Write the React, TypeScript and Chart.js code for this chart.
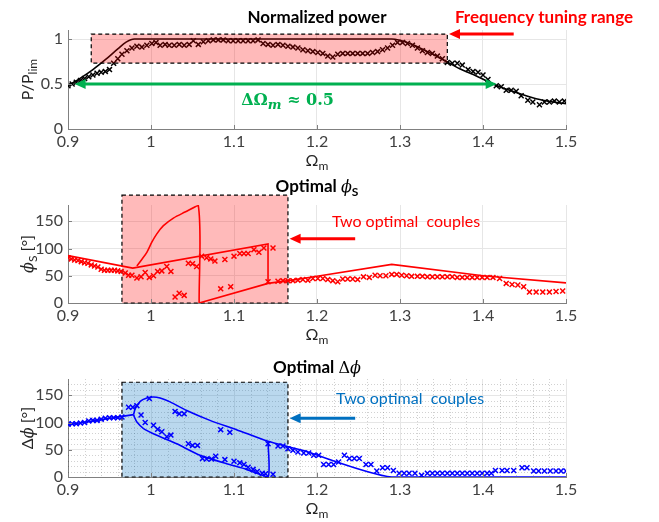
import React, { useEffect, useRef } from 'react';
import { Chart, registerables } from 'chart.js';
Chart.register(...registerables);

const FONT = 'Lato, "Open Sans", "DejaVu Sans", sans-serif';
const SERIF = '"DejaVu Serif", "Liberation Serif", serif';

// ---------- data ----------
const xTicks = [0.9, 1.0, 1.1, 1.2, 1.3, 1.4, 1.5];
const powerTicks = [0, 0.5, 1];
const angleTicks = [0, 50, 100, 150];

const powerModel: [number, number][] = [
  [0.9, 0.48], [0.915, 0.565], [0.93, 0.66], [0.945, 0.77], [0.96, 0.89], [0.97, 0.965], [0.98, 1.0],
  [1.1, 1.0], [1.2, 1.0], [1.29, 1.0], [1.3, 0.985], [1.312, 0.95], [1.332, 0.865], [1.352, 0.77],
  [1.372, 0.67], [1.392, 0.59], [1.412, 0.5], [1.432, 0.43], [1.452, 0.37], [1.472, 0.32], [1.5, 0.28],
];

const powerMeasured: [number, number][] = [
  [0.900, 0.48], [0.905, 0.50], [0.910, 0.52], [0.915, 0.54], [0.920, 0.56], [0.925, 0.58], [0.930, 0.60],
  [0.935, 0.62], [0.940, 0.63], [0.945, 0.64], [0.950, 0.66], [0.955, 0.73], [0.960, 0.78], [0.965, 0.83],
  [0.971, 0.87], [0.977, 0.90], [0.983, 0.92], [0.989, 0.91], [0.995, 0.93], [1.001, 0.95], [1.006, 0.96],
  [1.011, 0.93], [1.017, 0.94], [1.022, 0.93], [1.028, 0.93], [1.034, 0.94], [1.040, 0.93], [1.046, 0.94],
  [1.051, 0.98], [1.057, 0.94], [1.063, 0.97], [1.069, 0.98], [1.075, 0.99], [1.081, 0.99], [1.087, 0.99],
  [1.093, 0.98], [1.099, 0.98], [1.105, 0.98], [1.111, 0.98], [1.117, 0.98], [1.123, 0.98], [1.129, 0.99],
  [1.135, 0.95], [1.141, 0.94], [1.147, 0.93], [1.153, 0.94], [1.159, 0.93], [1.165, 0.92], [1.171, 0.91],
  [1.177, 0.90], [1.183, 0.88], [1.189, 0.87], [1.195, 0.86], [1.201, 0.85], [1.207, 0.84], [1.213, 0.81],
  [1.219, 0.80], [1.225, 0.83], [1.231, 0.84], [1.237, 0.84], [1.243, 0.84], [1.249, 0.84], [1.255, 0.84],
  [1.261, 0.84], [1.267, 0.85], [1.273, 0.86], [1.279, 0.88], [1.285, 0.90], [1.291, 0.93], [1.297, 0.96],
  [1.303, 0.96], [1.309, 0.95], [1.315, 0.93], [1.321, 0.90], [1.327, 0.87], [1.333, 0.85], [1.339, 0.84],
  [1.345, 0.81], [1.351, 0.78], [1.357, 0.74], [1.363, 0.73], [1.369, 0.73], [1.375, 0.71], [1.382, 0.66],
  [1.388, 0.64], [1.394, 0.63], [1.400, 0.60], [1.406, 0.55], [1.416, 0.48], [1.422, 0.47], [1.428, 0.43],
  [1.434, 0.43], [1.440, 0.42], [1.446, 0.37], [1.454, 0.32], [1.460, 0.30], [1.468, 0.27], [1.474, 0.30],
  [1.480, 0.30], [1.486, 0.31], [1.492, 0.30], [1.498, 0.31],
];

const phiUpper: [number, number][] = [[0.9, 87], [0.978, 64], [1.141, 108.6], [1.141, 36]];
const phiLower: [number, number][] = [[1.058, 0], [1.141, 36], [1.17, 42], [1.2, 49], [1.29, 71], [1.4, 50], [1.5, 37]];
const phiArc: [number, number][] = [
  [0.983, 68], [0.988, 78], [0.995, 93], [1.001, 111.6], [1.007, 127], [1.015, 142], [1.027, 156],
  [1.041, 167], [1.057, 179], [1.058, 0],
];
const phiMeasured: [number, number][] = [
  [0.900, 83], [0.904, 81], [0.908, 79], [0.912, 78], [0.916, 76], [0.920, 74], [0.924, 73], [0.928, 70],
  [0.932, 68], [0.936, 66], [0.940, 62], [0.944, 60], [0.948, 60], [0.952, 60], [0.956, 60], [0.960, 59],
  [0.964, 58], [0.969, 55], [0.973, 51], [0.977, 51], [0.983, 46], [0.988, 48], [0.993, 56], [0.998, 47],
  [1.003, 50], [1.008, 58], [1.013, 59], [1.019, 67], [1.024, 58], [1.029, 11], [1.034, 18], [1.040, 14],
  [1.045, 73], [1.050, 72], [1.055, 67], [1.061, 86], [1.067, 83], [1.072, 81], [1.077, 77], [1.084, 26],
  [1.089, 80], [1.096, 30], [1.100, 86], [1.107, 91], [1.112, 91], [1.117, 91], [1.124, 98], [1.130, 93],
  [1.136, 101], [1.141, 39], [1.147, 101], [1.153, 40], [1.159, 41], [1.165, 41], [1.171, 41], [1.177, 42],
  [1.183, 43], [1.189, 42], [1.195, 45], [1.201, 45], [1.207, 45], [1.213, 43], [1.219, 41], [1.225, 39],
  [1.231, 44], [1.237, 44], [1.243, 44], [1.249, 43], [1.256, 48], [1.263, 47], [1.270, 51], [1.276, 50],
  [1.283, 50], [1.290, 52.5], [1.296, 52.5], [1.302, 51], [1.308, 50], [1.314, 49], [1.321, 49], [1.327, 49],
  [1.333, 48], [1.339, 48], [1.345, 48], [1.351, 48], [1.357, 48], [1.363, 48], [1.369, 47], [1.375, 47],
  [1.381, 47], [1.387, 47], [1.393, 47], [1.399, 47], [1.405, 47], [1.412, 47], [1.420, 45], [1.428, 36],
  [1.435, 34], [1.442, 33], [1.449, 30], [1.456, 20], [1.464, 20], [1.472, 20], [1.480, 20], [1.488, 21],
  [1.496, 22],
];

const dphiStart: [number, number][] = [[0.9, 96], [0.979, 114.5]];
const dphiUpper: [number, number][] = [
  [0.979, 114.5], [0.981, 125.5], [0.987, 139], [0.995, 145], [1.003, 147], [1.011, 145], [1.023, 138],
  [1.043, 122], [1.071, 104], [1.103, 87], [1.141, 65.5], [1.18, 50], [1.29, 0], [1.5, 0],
];
const dphiLower: [number, number][] = [
  [0.979, 114.5], [0.98, 110], [0.983, 101], [0.991, 89], [1.007, 76.5], [1.031, 61], [1.059, 40],
  [1.091, 24.5], [1.115, 14], [1.141, 0], [1.141, 65.5],
];
const dphiMeasured: [number, number][] = [
  [0.900, 97], [0.905, 98], [0.910, 98], [0.915, 99], [0.920, 100], [0.925, 103], [0.930, 104], [0.935, 104],
  [0.940, 106], [0.945, 108], [0.950, 109], [0.955, 109], [0.960, 109], [0.965, 110], [0.973, 128], [0.978, 128],
  [0.983, 131], [0.988, 114], [0.993, 100], [0.998, 144], [1.003, 95], [1.008, 87.5], [1.013, 83], [1.019, 74],
  [1.024, 77], [1.029, 120.5], [1.034, 116], [1.040, 116], [1.045, 61], [1.050, 58], [1.056, 58], [1.062, 34],
  [1.067, 33], [1.073, 33], [1.078, 38], [1.084, 87], [1.089, 32], [1.095, 82], [1.100, 29], [1.107, 26],
  [1.112, 23], [1.117, 18], [1.123, 14], [1.128, 10], [1.134, 7], [1.138, 6], [1.141, 61], [1.147, 5],
  [1.153, 57], [1.159, 57], [1.165, 52], [1.171, 49], [1.177, 46], [1.184, 44], [1.190, 44], [1.196, 40],
  [1.202, 40], [1.208, 23], [1.214, 23], [1.220, 23], [1.226, 27.5], [1.233, 40], [1.239, 34], [1.245, 34],
  [1.251, 34], [1.259, 23], [1.265, 23], [1.272, 11], [1.279, 17], [1.285, 17], [1.292, 12], [1.299, 7],
  [1.305, 7], [1.311, 7], [1.318, 7], [1.326, 3], [1.333, 7], [1.339, 7], [1.345, 7], [1.351, 7], [1.357, 7],
  [1.363, 7], [1.369, 7], [1.375, 7], [1.381, 7], [1.387, 7], [1.393, 7], [1.399, 7], [1.405, 7], [1.410, 7],
  [1.415, 12], [1.423, 12], [1.429, 12], [1.437, 12], [1.447, 17], [1.453, 17], [1.461, 11], [1.467, 11],
  [1.474, 11], [1.481, 11], [1.488, 11], [1.494, 11], [1.500, 11],
];

// tuning ranges / annotation anchors (data units)
const powerRange = { x0: 0.928, x1: 1.357, y0: 0.733, y1: 1.055 };
const phiRange = { x0: 0.965, x1: 1.165, y0: 0, y1: 198 };
const dphiRange = { x0: 0.965, x1: 1.165, y0: 0, y1: 174 };

// ---------- helpers ----------
type Seg = { t: string; f: string; dy?: number };
const pts = (a: [number, number][]) => a.map(([x, y]) => ({ x, y }));

function drawRich(ctx: CanvasRenderingContext2D, segs: Seg[], x: number, y: number, align: 'center' | 'left', color: string, rotate = false) {
  ctx.save();
  ctx.fillStyle = color;
  ctx.textBaseline = 'alphabetic';
  ctx.textAlign = 'left';
  let w = 0;
  for (const s of segs) { ctx.font = s.f; w += ctx.measureText(s.t).width; }
  ctx.translate(x, y);
  if (rotate) ctx.rotate(-Math.PI / 2);
  let cx = align === 'center' ? -w / 2 : 0;
  for (const s of segs) {
    ctx.font = s.f;
    ctx.fillText(s.t, cx, s.dy || 0);
    cx += ctx.measureText(s.t).width;
  }
  ctx.restore();
}

function arrow(ctx: CanvasRenderingContext2D, x1: number, y1: number, x2: number, y2: number, color: string, lw: number, hl: number, hw: number, both = false) {
  ctx.save();
  ctx.strokeStyle = color; ctx.fillStyle = color; ctx.lineWidth = lw; ctx.setLineDash([]);
  const a = Math.atan2(y2 - y1, x2 - x1);
  const c = Math.cos(a), s = Math.sin(a);
  const head = (x: number, y: number, dirc: number, dirs: number) => {
    ctx.beginPath();
    ctx.moveTo(x, y);
    ctx.lineTo(x - hl * dirc + hw * dirs, y - hl * dirs - hw * dirc);
    ctx.lineTo(x - hl * dirc - hw * dirs, y - hl * dirs + hw * dirc);
    ctx.closePath();
    ctx.fill();
  };
  const sx = both ? x1 + hl * 0.8 * c : x1, sy = both ? y1 + hl * 0.8 * s : y1;
  ctx.beginPath();
  ctx.moveTo(sx, sy);
  ctx.lineTo(x2 - hl * 0.8 * c, y2 - hl * 0.8 * s);
  ctx.stroke();
  head(x2, y2, c, s);
  if (both) head(x1, y1, -c, -s);
  ctx.restore();
}

function rangeRect(ch: any, r: { x0: number; x1: number; y0: number; y1: number }, fill: string) {
  const ctx = ch.ctx as CanvasRenderingContext2D;
  const X = ch.scales.x, Y = ch.scales.y;
  const l = X.getPixelForValue(r.x0), rr = X.getPixelForValue(r.x1);
  const t = Y.getPixelForValue(r.y1), b = Y.getPixelForValue(r.y0);
  ctx.save();
  ctx.fillStyle = fill;
  ctx.fillRect(l, t, rr - l, b - t);
  ctx.setLineDash([4, 3]);
  ctx.strokeStyle = '#000';
  ctx.lineWidth = 1.2;
  ctx.strokeRect(l, t, rr - l, b - t);
  ctx.restore();
}

function innerTicks(ch: any, yTicks: number[]) {
  const ctx = ch.ctx as CanvasRenderingContext2D;
  const a = ch.chartArea;
  ctx.save();
  ctx.strokeStyle = '#808080'; ctx.lineWidth = 1;
  ctx.beginPath();
  for (const v of xTicks) {
    const x = Math.round(ch.scales.x.getPixelForValue(v)) + 0.5;
    ctx.moveTo(x, a.bottom); ctx.lineTo(x, a.bottom - 4);
  }
  for (const v of yTicks) {
    const y = Math.round(ch.scales.y.getPixelForValue(v)) + 0.5;
    ctx.moveTo(a.left, y); ctx.lineTo(a.left + 4, y);
  }
  ctx.stroke();
  ctx.restore();
}

function minorGrid(ch: any) {
  const ctx = ch.ctx as CanvasRenderingContext2D;
  const a = ch.chartArea;
  ctx.save();
  ctx.strokeStyle = 'rgba(0,0,0,0.18)'; ctx.lineWidth = 1; ctx.setLineDash([1, 2]);
  ctx.beginPath();
  for (let i = 1; i < 30; i++) {
    if (i % 5 === 0) continue;
    const x = Math.round(ch.scales.x.getPixelForValue(0.9 + i * 0.02)) + 0.5;
    ctx.moveTo(x, a.top); ctx.lineTo(x, a.bottom);
  }
  for (let v = 10; v < 180; v += 10) {
    if (v % 50 === 0) continue;
    const y = Math.round(ch.scales.y.getPixelForValue(v)) + 0.5;
    ctx.moveTo(a.left, y); ctx.lineTo(a.right, y);
  }
  ctx.stroke();
  ctx.restore();
}

const TXT = '#262626';
const TICK = '#404040';
const PHI = 'ϕ';
const omegaLabel = (ch: any) => {
  const a = ch.chartArea;
  drawRich(ch.ctx, [{ t: 'Ω', f: `16px ${FONT}` }, { t: 'm', f: `12px ${FONT}`, dy: 4 }], (a.left + a.right) / 2, a.bottom + 37, 'center', TXT);
};

const lineDs = (a: [number, number][], color: string, extra: any = {}) => ({
  data: pts(a), showLine: true, borderColor: color, backgroundColor: color, borderWidth: 1.6,
  pointRadius: 0, fill: false, tension: 0, ...extra,
});
const markDs = (a: [number, number][], color: string) => ({
  data: pts(a), showLine: false, pointStyle: 'crossRot', pointRadius: 3.5, pointBorderWidth: 1.5,
  borderColor: color, backgroundColor: color,
});

function makeChart(canvas: HTMLCanvasElement, cfg: { yMax: number; yTicks: number[]; top: number; below: number; datasets: any[]; plugin: any; }) {
  const fmt = (v: any) => String(Math.round(Number(v) * 100) / 100);
  return new Chart(canvas, {
    type: 'scatter',
    data: { datasets: cfg.datasets },
    options: {
      animation: false, responsive: false, devicePixelRatio: 1, events: [],
      layout: { padding: { top: cfg.top, left: 0, right: 93, bottom: 0 } },
      plugins: { legend: { display: false }, tooltip: { enabled: false }, title: { display: false } },
      scales: {
        x: {
          type: 'linear', min: 0.9, max: 1.5,
          afterBuildTicks: (s: any) => { s.ticks = xTicks.map((v) => ({ value: v })); },
          afterFit: (s: any) => { s.height = cfg.below; },
          ticks: { callback: fmt, font: { family: FONT, size: 16 }, color: TICK, padding: 3, maxRotation: 0, autoSkip: false },
          grid: { color: '#e6e6e6', drawTicks: false },
          border: { color: '#808080' },
        },
        y: {
          type: 'linear', min: 0, max: cfg.yMax,
          afterBuildTicks: (s: any) => { s.ticks = cfg.yTicks.map((v) => ({ value: v })); },
          afterFit: (s: any) => { s.width = 68; },
          ticks: { callback: fmt, font: { family: FONT, size: 16 }, color: TICK, padding: 5, autoSkip: false },
          grid: { color: '#e6e6e6', drawTicks: false },
          border: { color: '#808080' },
        },
      },
    } as any,
    plugins: [cfg.plugin],
  });
}

// ---------- panels ----------
function buildPower(canvas: HTMLCanvasElement) {
  const plugin = {
    id: 'powerAnn',
    afterDatasetsDraw(ch: any) {
      const ctx = ch.ctx as CanvasRenderingContext2D;
      const X = ch.scales.x, Y = ch.scales.y, a = ch.chartArea;
      rangeRect(ch, powerRange, 'rgba(255,0,0,0.27)');
      arrow(ctx, X.getPixelForValue(1.437), Y.getPixelForValue(powerRange.y1), X.getPixelForValue(1.359), Y.getPixelForValue(powerRange.y1), '#ff0000', 3, 11, 5);
      arrow(ctx, X.getPixelForValue(0.908), Y.getPixelForValue(0.5), X.getPixelForValue(1.4165), Y.getPixelForValue(0.5), '#00b050', 3, 11, 5, true);
      drawRich(ctx, [{ t: 'ΔΩ', f: `bold 16px ${SERIF}` }, { t: 'm', f: `bold italic 13px ${SERIF}`, dy: 4 }, { t: ' ≈ 0.5', f: `bold 16px ${SERIF}` }],
        X.getPixelForValue(1.1645), Y.getPixelForValue(0.267), 'center', '#00b050');
      drawRich(ctx, [{ t: 'Frequency tuning range', f: `bold 17px ${FONT}` }], X.getPixelForValue(1.4735), 23, 'center', '#ff0000');
      drawRich(ctx, [{ t: 'Normalized power', f: `bold 17px ${FONT}` }], (a.left + a.right) / 2, 23, 'center', '#000');
      drawRich(ctx, [{ t: 'P/P', f: `16px ${FONT}` }, { t: 'lim', f: `12px ${FONT}`, dy: 4 }], 33, (a.top + a.bottom) / 2, 'center', TXT, true);
      omegaLabel(ch);
      innerTicks(ch, powerTicks);
    },
  };
  return makeChart(canvas, {
    yMax: 1.1, yTicks: powerTicks, top: 30, below: 43, plugin,
    datasets: [
      lineDs(powerModel, '#000000', { cubicInterpolationMode: 'monotone' }),
      markDs(powerMeasured, '#000000'),
    ],
  });
}

function buildPhi(canvas: HTMLCanvasElement) {
  const plugin = {
    id: 'phiAnn',
    beforeDatasetsDraw(ch: any) {
      rangeRect(ch, phiRange, 'rgba(255,0,0,0.27)');
    },
    afterDatasetsDraw(ch: any) {
      const ctx = ch.ctx as CanvasRenderingContext2D;
      const X = ch.scales.x, Y = ch.scales.y, a = ch.chartArea;
      arrow(ctx, X.getPixelForValue(1.246), Y.getPixelForValue(118), X.getPixelForValue(1.167), Y.getPixelForValue(118), '#ff0000', 3, 11, 5);
      drawRich(ctx, [{ t: 'Two optimal  couples', f: `16px ${FONT}` }], X.getPixelForValue(1.218), Y.getPixelForValue(140), 'left', '#ff0000');
      drawRich(ctx, [{ t: 'Optimal ', f: `bold 17px ${FONT}` }, { t: PHI, f: `italic 16px ${SERIF}` }, { t: 'S', f: `bold 12px ${FONT}`, dy: 4 }],
        (a.left + a.right) / 2, a.top - 13, 'center', '#000');
      drawRich(ctx, [{ t: PHI, f: `italic 16px ${SERIF}` }, { t: 'S', f: `12px ${FONT}`, dy: 4 }, { t: ' [°]', f: `16px ${FONT}` }], 33, (a.top + a.bottom) / 2, 'center', TXT, true);
      omegaLabel(ch);
      innerTicks(ch, angleTicks);
    },
  };
  return makeChart(canvas, {
    yMax: 180, yTicks: angleTicks, top: 33, below: 43, plugin,
    datasets: [
      markDs(phiMeasured, '#ff0000'),
      lineDs(phiUpper, '#ff0000'),
      lineDs(phiLower, '#ff0000'),
      lineDs(phiArc, '#ff0000', { tension: 0.3 }),
    ],
  });
}

function buildDphi(canvas: HTMLCanvasElement) {
  const plugin = {
    id: 'dphiAnn',
    beforeDatasetsDraw(ch: any) {
      minorGrid(ch);
      rangeRect(ch, dphiRange, 'rgba(0,112,192,0.27)');
    },
    afterDatasetsDraw(ch: any) {
      const ctx = ch.ctx as CanvasRenderingContext2D;
      const X = ch.scales.x, Y = ch.scales.y, a = ch.chartArea;
      arrow(ctx, X.getPixelForValue(1.246), Y.getPixelForValue(108), X.getPixelForValue(1.167), Y.getPixelForValue(108), '#0070c0', 3, 11, 5);
      drawRich(ctx, [{ t: 'Two optimal  couples', f: `16px ${FONT}` }], X.getPixelForValue(1.223), Y.getPixelForValue(135), 'left', '#0070c0');
      drawRich(ctx, [{ t: 'Optimal ', f: `bold 17px ${FONT}` }, { t: 'Δ', f: `16px ${SERIF}` }, { t: PHI, f: `italic 16px ${SERIF}` }],
        (a.left + a.right) / 2, a.top - 6, 'center', '#000');
      drawRich(ctx, [{ t: 'Δ', f: `16px ${FONT}` }, { t: PHI, f: `italic 16px ${SERIF}` }, { t: ' [°]', f: `16px ${FONT}` }], 33, (a.top + a.bottom) / 2, 'center', TXT, true);
      omegaLabel(ch);
      innerTicks(ch, angleTicks);
    },
  };
  return makeChart(canvas, {
    yMax: 180, yTicks: angleTicks, top: 33, below: 45, plugin,
    datasets: [
      markDs(dphiMeasured, '#0000ff'),
      lineDs(dphiStart, '#0000ff'),
      lineDs(dphiUpper, '#0000ff', { tension: 0.25 }),
      lineDs(dphiLower, '#0000ff', { tension: 0.2 }),
    ],
  });
}

function Panel({ top, height, make }: { top: number; height: number; make: (c: HTMLCanvasElement) => Chart }) {
  const ref = useRef<HTMLCanvasElement>(null);
  useEffect(() => {
    const ch = make(ref.current!);
    return () => ch.destroy();
  }, []);
  return (
    <div style={{ position: 'absolute', left: 0, top, width: 659, height }}>
      <canvas ref={ref} width={659} height={height} style={{ display: 'block' }} />
    </div>
  );
}

export default function App() {
  return (
    <div style={{ position: 'absolute', left: 0, top: 0, width: 659, height: 522, background: '#fff', overflow: 'hidden' }}>
      <Panel top={0} height={172} make={buildPower} />
      <Panel top={172} height={174} make={buildPhi} />
      <Panel top={346} height={176} make={buildDphi} />
    </div>
  );
}
